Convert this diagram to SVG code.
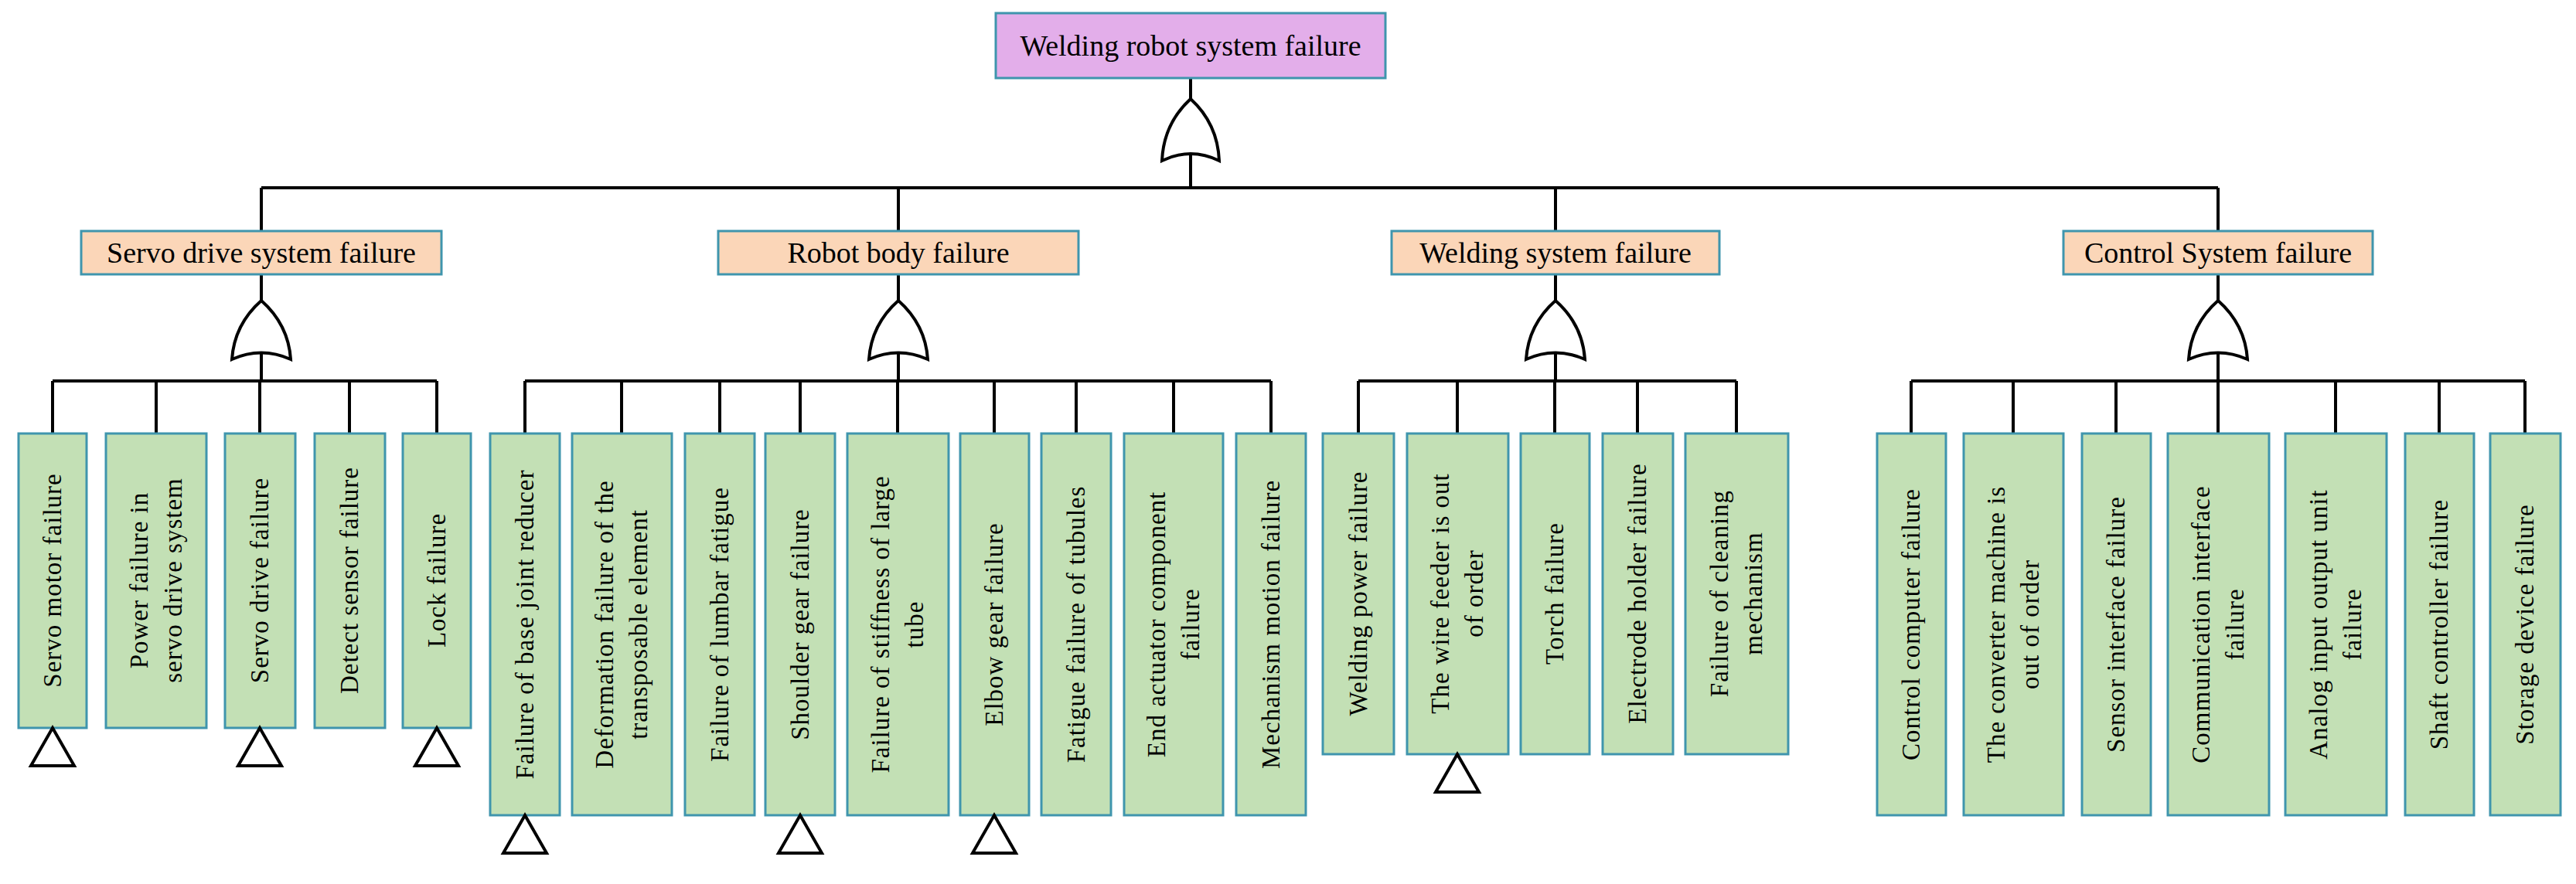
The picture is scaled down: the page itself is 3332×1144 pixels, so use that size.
<svg xmlns="http://www.w3.org/2000/svg" width="3332" height="1144" viewBox="0 0 3332 1144">
<style>
.top{fill:#e3aeea;stroke:#3f95ad;stroke-width:3}
.mid{fill:#fbd6b8;stroke:#3f95ad;stroke-width:3}
.leaf{fill:#c3e0b5;stroke:#3f95ad;stroke-width:3}
text{font-family:"Liberation Serif","Times New Roman",serif;fill:#000;text-anchor:middle;dominant-baseline:central}
.t1{font-size:38px}
.t3{font-size:33px;letter-spacing:1px}
.ln{stroke:#000;stroke-width:4;fill:none}
.gate{fill:#fff;stroke:#000;stroke-width:4}
.tri{fill:#fff;stroke:#000;stroke-width:4}
</style>
<g id="connectors">
<path class="ln" d="M1540 101V130M1540 195V243M338 243H2869M338 243V299M1162 243V299M2012 243V299M2869 243V299"/>
<path class="ln" d="M338 355V389M338 455V493M68 493H565M68 493V561M202 493V561M336 493V561M452 493V561M565 493V561"/>
<path class="ln" d="M1162 355V389M1162 455V493M679 493H1644M679 493V561M804 493V561M931 493V561M1035 493V561M1161 493V561M1286 493V561M1392 493V561M1518 493V561M1644 493V561"/>
<path class="ln" d="M2012 355V389M2012 455V493M1757 493H2246M1757 493V561M1885 493V561M2011 493V561M2118 493V561M2246 493V561"/>
<path class="ln" d="M2869 355V389M2869 455V493M2472 493H3266M2472 493V561M2604 493V561M2737 493V561M2869 493V561M3021 493V561M3155 493V561M3266 493V561"/>
</g>
<g id="gates">
<path class="gate" d="M1540 128Q1575 160 1577 208Q1540 190 1503 208Q1505 160 1540 128Z"/>
<path class="gate" d="M338 389Q373 420 376 465Q338 448 300 465Q303 420 338 389Z"/>
<path class="gate" d="M1162 389Q1197 420 1200 465Q1162 448 1124 465Q1127 420 1162 389Z"/>
<path class="gate" d="M2012 389Q2047 420 2050 465Q2012 448 1974 465Q1977 420 2012 389Z"/>
<path class="gate" d="M2869 389Q2904 420 2907 465Q2869 448 2831 465Q2834 420 2869 389Z"/>
</g>
<g id="top"><rect class="top" x="1288" y="17" width="504" height="84"/><text class="t1" x="1540" y="59">Welding robot system failure</text></g>
<g id="servo"><rect class="mid" x="105" y="299" width="466" height="56"/><text class="t1" x="338" y="327">Servo drive system failure</text></g>
<g id="body"><rect class="mid" x="929" y="299" width="466" height="56"/><text class="t1" x="1162" y="327">Robot body failure</text></g>
<g id="welding"><rect class="mid" x="1800" y="299" width="424" height="56"/><text class="t1" x="2012" y="327">Welding system failure</text></g>
<g id="control"><rect class="mid" x="2669" y="299" width="400" height="56"/><text class="t1" x="2869" y="327">Control System failure</text></g>

<g id="l1"><rect class="leaf" x="24" y="561" width="88" height="381"/><text class="t3" transform="rotate(-90 68 751)" x="68" y="751">Servo motor failure</text><path class="tri" d="M68 942L96 991H40Z"/></g>
<g id="l2"><rect class="leaf" x="137" y="561" width="130" height="381"/><text class="t3" transform="rotate(-90 202 751)" x="202" y="751"><tspan x="202" dy="-22">Power failure in</tspan><tspan x="202" dy="44">servo drive system</tspan></text></g>
<g id="l3"><rect class="leaf" x="291" y="561" width="91" height="381"/><text class="t3" transform="rotate(-90 336 751)" x="336" y="751">Servo drive failure</text><path class="tri" d="M336 942L364 991H308Z"/></g>
<g id="l4"><rect class="leaf" x="407" y="561" width="91" height="381"/><text class="t3" transform="rotate(-90 452 751)" x="452" y="751">Detect sensor failure</text></g>
<g id="l5"><rect class="leaf" x="521" y="561" width="88" height="381"/><text class="t3" transform="rotate(-90 565 751)" x="565" y="751">Lock failure</text><path class="tri" d="M565 942L593 991H537Z"/></g>

<g id="l6"><rect class="leaf" x="634" y="561" width="90" height="494"/><text class="t3" transform="rotate(-90 679 808)" x="679" y="808">Failure of base joint reducer</text><path class="tri" d="M679 1055L707 1104H651Z"/></g>
<g id="l7"><rect class="leaf" x="740" y="561" width="129" height="494"/><text class="t3" transform="rotate(-90 804 808)" x="804" y="808"><tspan x="804" dy="-22">Deformation failure of the</tspan><tspan x="804" dy="44">transposable element</tspan></text></g>
<g id="l8"><rect class="leaf" x="886" y="561" width="90" height="494"/><text class="t3" transform="rotate(-90 931 808)" x="931" y="808">Failure of lumbar fatigue</text></g>
<g id="l9"><rect class="leaf" x="990" y="561" width="90" height="494"/><text class="t3" transform="rotate(-90 1035 808)" x="1035" y="808">Shoulder gear failure</text><path class="tri" d="M1035 1055L1063 1104H1007Z"/></g>
<g id="l10"><rect class="leaf" x="1096" y="561" width="131" height="494"/><text class="t3" transform="rotate(-90 1161 808)" x="1161" y="808"><tspan x="1161" dy="-22">Failure of stiffness of large</tspan><tspan x="1161" dy="44">tube</tspan></text></g>
<g id="l11"><rect class="leaf" x="1242" y="561" width="89" height="494"/><text class="t3" transform="rotate(-90 1286 808)" x="1286" y="808">Elbow gear failure</text><path class="tri" d="M1286 1055L1314 1104H1258Z"/></g>
<g id="l12"><rect class="leaf" x="1347" y="561" width="90" height="494"/><text class="t3" transform="rotate(-90 1392 808)" x="1392" y="808">Fatigue failure of tubules</text></g>
<g id="l13"><rect class="leaf" x="1454" y="561" width="128" height="494"/><text class="t3" transform="rotate(-90 1518 808)" x="1518" y="808"><tspan x="1518" dy="-22">End actuator component</tspan><tspan x="1518" dy="44">failure</tspan></text></g>
<g id="l14"><rect class="leaf" x="1599" y="561" width="90" height="494"/><text class="t3" transform="rotate(-90 1644 808)" x="1644" y="808">Mechanism motion failure</text></g>

<g id="l15"><rect class="leaf" x="1711" y="561" width="92" height="415"/><text class="t3" transform="rotate(-90 1757 768)" x="1757" y="768">Welding power failure</text></g>
<g id="l16"><rect class="leaf" x="1820" y="561" width="131" height="415"/><text class="t3" transform="rotate(-90 1885 768)" x="1885" y="768"><tspan x="1885" dy="-22">The wire feeder is out</tspan><tspan x="1885" dy="44">of order</tspan></text><path class="tri" d="M1885 976L1913 1025H1857Z"/></g>
<g id="l17"><rect class="leaf" x="1967" y="561" width="89" height="415"/><text class="t3" transform="rotate(-90 2011 768)" x="2011" y="768">Torch failure</text></g>
<g id="l18"><rect class="leaf" x="2073" y="561" width="91" height="415"/><text class="t3" transform="rotate(-90 2118 768)" x="2118" y="768">Electrode holder failure</text></g>
<g id="l19"><rect class="leaf" x="2180" y="561" width="133" height="415"/><text class="t3" transform="rotate(-90 2246 768)" x="2246" y="768"><tspan x="2246" dy="-22">Failure of cleaning</tspan><tspan x="2246" dy="44">mechanism</tspan></text></g>

<g id="l20"><rect class="leaf" x="2428" y="561" width="89" height="494"/><text class="t3" transform="rotate(-90 2472 808)" x="2472" y="808">Control computer failure</text></g>
<g id="l21"><rect class="leaf" x="2540" y="561" width="129" height="494"/><text class="t3" transform="rotate(-90 2604 808)" x="2604" y="808"><tspan x="2604" dy="-22">The converter machine is</tspan><tspan x="2604" dy="44">out of order</tspan></text></g>
<g id="l22"><rect class="leaf" x="2693" y="561" width="89" height="494"/><text class="t3" transform="rotate(-90 2737 808)" x="2737" y="808">Sensor interface failure</text></g>
<g id="l23"><rect class="leaf" x="2804" y="561" width="131" height="494"/><text class="t3" transform="rotate(-90 2869 808)" x="2869" y="808"><tspan x="2869" dy="-22">Communication interface</tspan><tspan x="2869" dy="44">failure</tspan></text></g>
<g id="l24"><rect class="leaf" x="2956" y="561" width="131" height="494"/><text class="t3" transform="rotate(-90 3021 808)" x="3021" y="808"><tspan x="3021" dy="-22">Analog input output unit</tspan><tspan x="3021" dy="44">failure</tspan></text></g>
<g id="l25"><rect class="leaf" x="3111" y="561" width="89" height="494"/><text class="t3" transform="rotate(-90 3155 808)" x="3155" y="808">Shaft controller failure</text></g>
<g id="l26"><rect class="leaf" x="3221" y="561" width="91" height="494"/><text class="t3" transform="rotate(-90 3266 808)" x="3266" y="808">Storage device failure</text></g>
</svg>
